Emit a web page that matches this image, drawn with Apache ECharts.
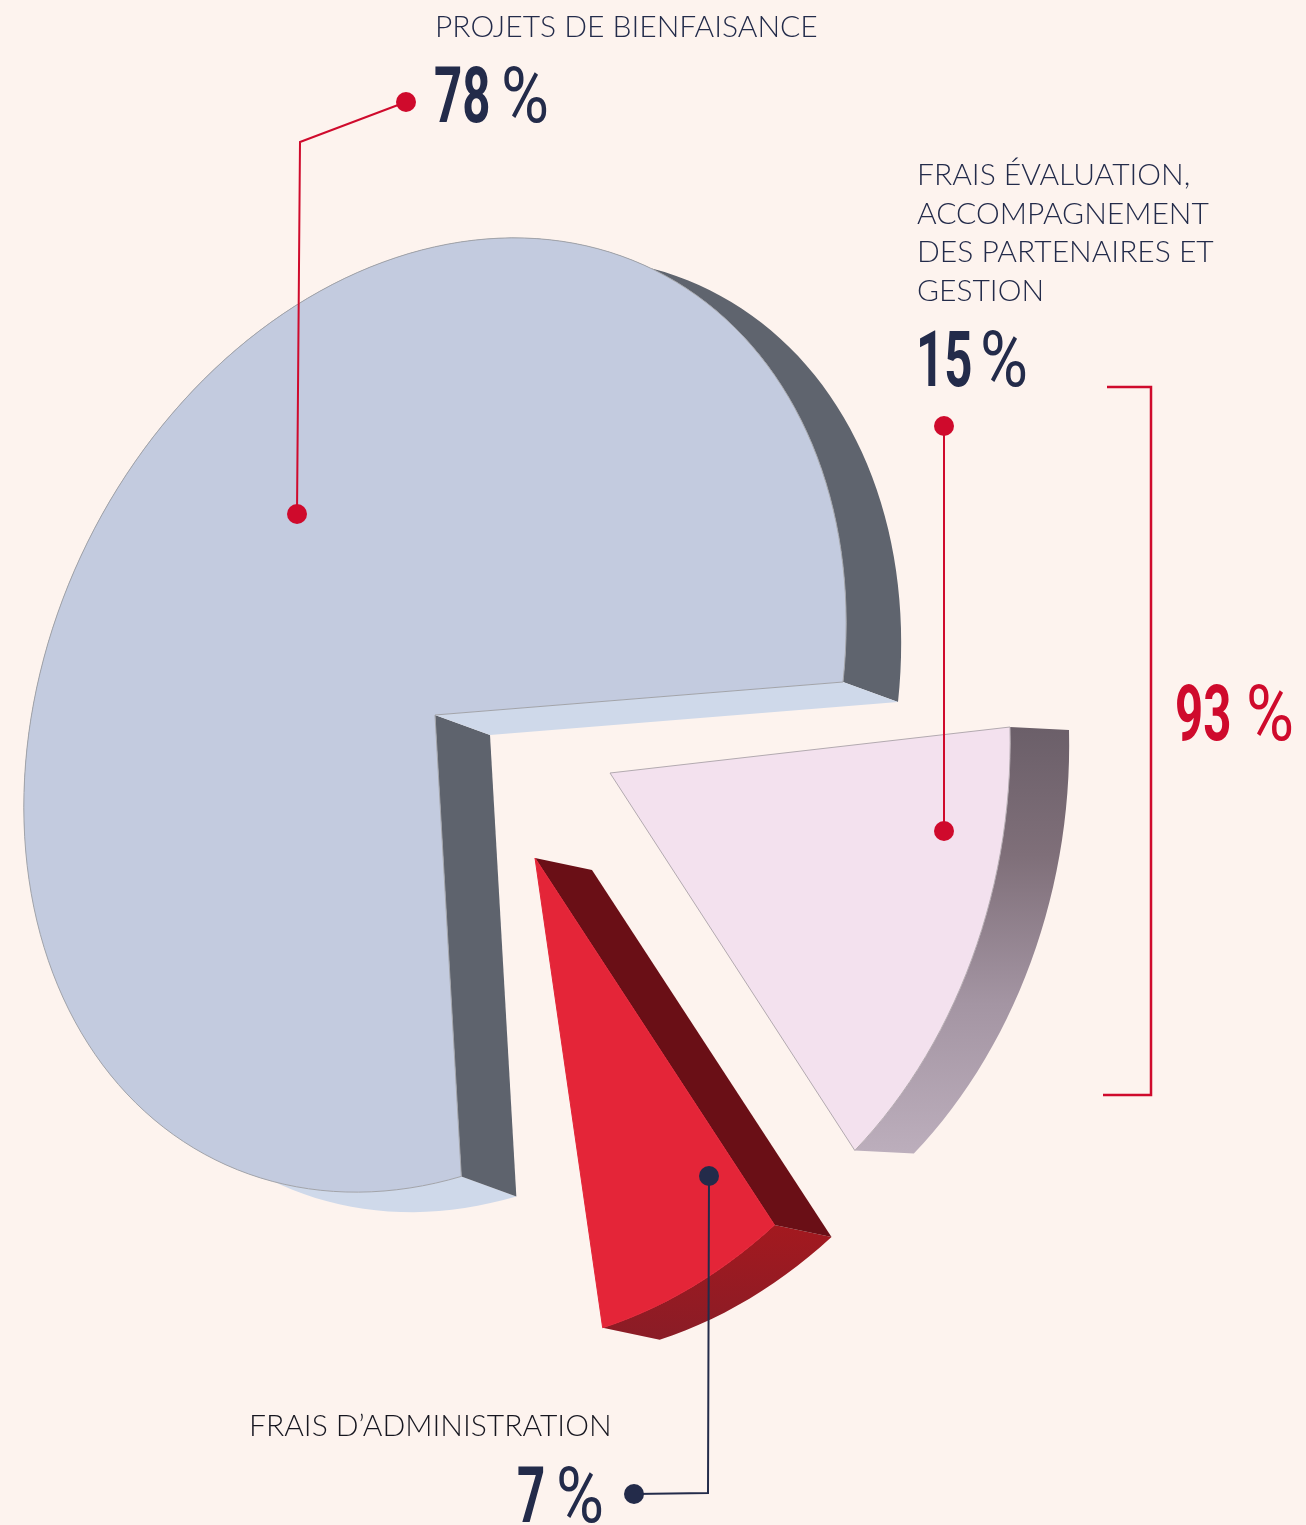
<!DOCTYPE html>
<html lang="fr">
<head>
    <meta charset="UTF-8">
    <title>Répartition des dépenses</title>
    <script src="https://cdn.jsdelivr.net/npm/echarts@6/dist/echarts.min.js"></script>
    <style>
        body { margin: 0; padding: 0; background-color: #fdf3ee; }
        #chart { width: 1306px; height: 1525px; }
    </style>
</head>
<body>
    <div id="chart"></div>

    <script>
        // Values
        const categories = ['PROJETS DE BIENFAISANCE', 'FRAIS ÉVALUATION,\nACCOMPAGNEMENT\nDES PARTENAIRES ET\nGESTION', 'FRAIS D’ADMINISTRATION'];
        const shares = [78, 15, 7];
        const bracketTotal = 93; // 78 + 15

        const NAVY = '#232b4a';
        const RED = '#cf0a2c';

        // How each slice sits in the tilted drawing: apex, the two ellipse axes, extrusion.
        // startWall / endWall are the cut faces, null where the top face hides them
        const slices = [
            {
                apex: [435, 715], u: [408, -33], v: [-51, 476], depth: [55, 20],
                face: '#c3cbdf', line: '#a2a4aa',
                outer: [[0, '#5f646e'], [0.6, '#5f646e'], [0.62, '#cfd9ea'], [1, '#cfd9ea']],
                startWall: '#5e636d', endWall: '#cfd9ea'
            },
            {
                apex: [610, 773], u: [400, -46], v: [12, 500], depth: [59, 3],
                face: '#f3e1ee', line: '#b3aab0',
                outer: [[0, '#6b5f69'], [0.3, '#7f6f79'], [0.65, '#a495a3'], [1, '#bcaebc']],
                startWall: null, endWall: null
            },
            {
                apex: [535, 858], u: [424, -46], v: [-12, 487], depth: [57, 12],
                face: '#e42538', line: '#e42538',
                outer: [[0, '#a3191f'], [1, '#8a1c26']],
                startWall: '#6a0f16', endWall: null
            }
        ];

        const total = shares.reduce((a, b) => a + b, 0);
        const starts = shares.map((s, i) => shares.slice(0, i).reduce((a, b) => a + b, 0));

        function renderSlice(params, api) {
            const i = params.dataIndex;
            const s = slices[i];
            const sys = params.coordSys;
            const from = starts[i];
            const to = from + api.value(0);

            // polar scale gives the angle, then the point goes to this slice's tilted plane
            const project = (pct) => {
                const p = api.coord([1, pct]);
                const nx = (p[0] - sys.cx) / sys.r;
                const ny = (p[1] - sys.cy) / sys.r;
                return [s.apex[0] + s.u[0] * nx + s.v[0] * ny, s.apex[1] + s.u[1] * nx + s.v[1] * ny];
            };
            const shift = (p) => [p[0] + s.depth[0], p[1] + s.depth[1]];

            const arc = [];
            const steps = Math.ceil((to - from) * 2);
            for (let k = 0; k <= steps; k++) {
                arc.push(project(from + (to - from) * k / steps));
            }
            const first = arc[0];
            const last = arc[arc.length - 1];
            const poly = (points, fill, extra) => ({
                type: 'polygon',
                shape: { points: points },
                style: Object.assign({ fill: fill }, extra || {})
            });

            const children = [
                poly(arc.concat(arc.map(shift).reverse()),
                    new echarts.graphic.LinearGradient(0, 0, 0, 1, s.outer.map(c => ({ offset: c[0], color: c[1] }))))
            ];
            if (s.startWall) children.push(poly([s.apex, first, shift(first), shift(s.apex)], s.startWall));
            if (s.endWall) children.push(poly([s.apex, last, shift(last), shift(s.apex)], s.endWall));
            children.push(poly([s.apex].concat(arc), s.face, { stroke: s.line, lineWidth: 1 }));

            return { type: 'group', children: children };
        }

        function label(x, y, text, color) {
            return {
                type: 'text', x: x, y: y, z: 100,
                style: { text: text, fill: color || NAVY, font: '300 30px Lato', lineHeight: 38.6 }
            };
        }

        // big condensed number followed by its thin percent sign
        function bigValue(x, y, value, color, pctX) {
            return [
                {
                    type: 'text', x: x, y: y, z: 100, scaleX: 0.63,
                    style: { text: String(value), fill: color, font: 'bold 78px Roboto' }
                },
                {
                    type: 'text', x: pctX, y: y, z: 100, scaleX: 0.84,
                    style: { text: '%', fill: color, font: 'normal 78px Roboto' }
                }
            ];
        }

        function leader(points, color) {
            const dot = (p) => ({ type: 'circle', z: 101, shape: { cx: p[0], cy: p[1], r: 10 }, style: { fill: color } });
            return [
                { type: 'polyline', z: 100, shape: { points: points }, style: { stroke: color, lineWidth: 2, fill: null } },
                dot(points[0]),
                dot(points[points.length - 1])
            ];
        }

        const chart = echarts.init(document.getElementById('chart'), null, { renderer: 'canvas' });
        chart.setOption({
            backgroundColor: '#fdf3ee',
            animation: false,
            polar: { center: ['50%', '50%'], radius: 100 },
            // pct 0 sits at the lower cut of the big slice so it closes where the 15 % starts
            angleAxis: { show: false, type: 'value', min: 0, max: total, startAngle: -360 * (total - shares[0]) / total },
            radiusAxis: { show: false, type: 'value', min: 0, max: 1 },
            series: [{
                type: 'custom',
                coordinateSystem: 'polar',
                data: shares.map((s, i) => ({ name: categories[i], value: [s] })),
                renderItem: renderSlice,
                silent: true
            }],
            graphic: {
                elements: [
                    label(435, 8, categories[0]),
                    label(917, 156, categories[1]),
                    label(249, 1407, categories[2], '#16161f'),
                    ...bigValue(434, 63, shares[0], NAVY, 501),
                    ...bigValue(916, 327, shares[1], NAVY, 980),
                    ...bigValue(517, 1463, shares[2], NAVY, 556),
                    ...bigValue(1175, 681, bracketTotal, RED, 1246),
                    ...leader([[406, 102], [300, 142], [297, 514]], RED),
                    ...leader([[944, 426], [944, 831]], RED),
                    ...leader([[709, 1176], [708, 1493], [634, 1494]], NAVY),
                    {
                        type: 'polyline', z: 100,
                        shape: { points: [[1107, 387], [1151, 387], [1151, 1095], [1103, 1095]] },
                        style: { stroke: RED, lineWidth: 2.5, fill: null }
                    }
                ]
            }
        });
    </script>
</body>
</html>
